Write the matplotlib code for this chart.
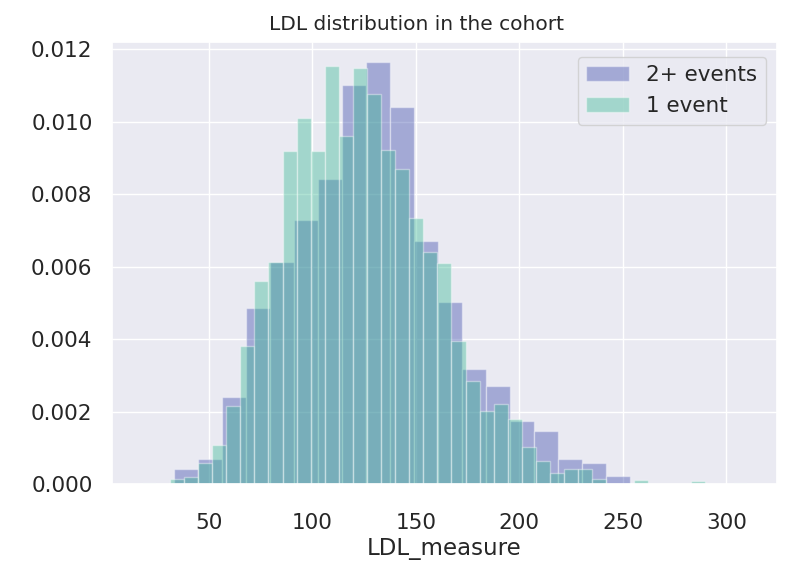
import matplotlib
matplotlib.use("Agg")
import matplotlib.pyplot as plt, seaborn as sns, numpy as np

# density per bin (distplot-style histograms, norm_hist)
multi_range = (33.3, 253.3)   # 2+ events: bin range
multi_density = [0.000405, 0.00068, 0.00239, 0.00487, 0.00614, 0.00729, 0.00842,
                 0.01102, 0.01164, 0.0104, 0.00672, 0.00503, 0.00317, 0.00271,
                 0.00175, 0.00147, 0.00068, 0.00057, 0.00023]

single_range = (17.7, 309.9)  # 1 event: bin range
single_density = [0.00004, 0.0, 0.00013, 0.000185, 0.00059, 0.00108, 0.00216, 0.00381,
                  0.0056, 0.00614, 0.0092, 0.01011, 0.0092, 0.01154, 0.0096, 0.01148,
                  0.01076, 0.00922, 0.0087, 0.00733, 0.00639, 0.00609, 0.00396, 0.00283,
                  0.00201, 0.00222, 0.0018, 0.00102, 0.00064, 0.00031, 0.00041, 0.00041,
                  0.00013, 0.0, 0.0, 0.00012, 0.0, 0.0, 0.0, 0.00007, 0.0, 0.0, 0.00004]

labels = ["2+ events", "1 event"]
colors = ["#3949ab", "#38b893"]

sns.set_theme(style="darkgrid")
plt.rcParams["font.family"] = ["DejaVu Sans"]

fig = plt.figure(figsize=(7.89, 5.62), dpi=100)
ax = fig.add_axes([112/789, 78/562, 665/789, 442/562])

for (lo, hi), dens, lab, col in zip([multi_range, single_range], [multi_density, single_density], labels, colors):
    edges = np.linspace(lo, hi, len(dens) + 1)
    ax.hist(edges[:-1], bins=edges, weights=dens, color=col, alpha=0.4,
            edgecolor="white", linewidth=1.0, label=lab)

ax.set_xlim(3.3, 324.4)
ax.set_ylim(0, 0.0122)
ax.set_yticks([0, 0.002, 0.004, 0.006, 0.008, 0.010, 0.012])
ax.set_yticklabels([f"{v:.3f}" for v in ax.get_yticks()])
ax.tick_params(axis="y", labelsize=15.5, pad=8)
ax.tick_params(axis="x", labelsize=15.5, pad=15)
ax.set_xlabel("LDL_measure", fontsize=16.5, labelpad=2.5)
ax.set_title("LDL distribution in the cohort", fontsize=14.5, pad=9, x=0.458)
ax.legend(loc="upper right", bbox_to_anchor=(1.0, 0.991), fontsize=15.5,
          handlelength=2.0, borderaxespad=0.5)

plt.savefig("out.png", dpi=100)
plt.close()
